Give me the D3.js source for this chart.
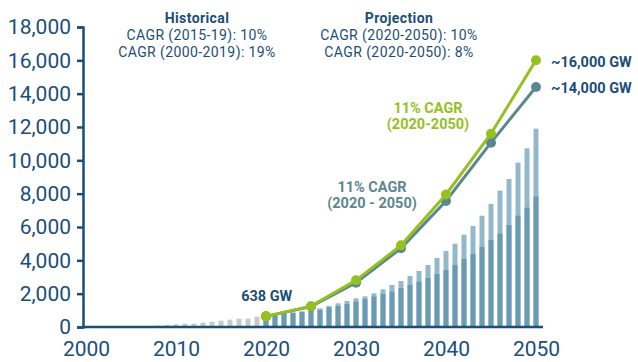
<!DOCTYPE html>
<html>
<head>
<meta charset="utf-8">
<script src="https://cdn.jsdelivr.net/npm/d3@7/dist/d3.min.js"></script>
<style>
  html, body { margin: 0; padding: 0; background: #ffffff; }
  svg { display: block; }
  text { font-family: Roboto, "Open Sans", Arial, sans-serif; }
</style>
</head>
<body>
<svg id="chart" width="638" height="362"></svg>
<script>
// Installed solar PV capacity (GW), historical and projected
const histYears = [2007, 2008, 2009, 2010, 2011, 2012, 2013, 2014, 2015, 2016, 2017, 2018, 2019];
const histCapacity = [60, 80, 120, 160, 200, 200, 260, 320, 380, 440, 500, 500, 620];

const projYears = [2020, 2021, 2022, 2023, 2024, 2025, 2026, 2027, 2028, 2029, 2030,
                   2031, 2032, 2033, 2034, 2035, 2036, 2037, 2038, 2039, 2040,
                   2041, 2042, 2043, 2044, 2045, 2046, 2047, 2048, 2049, 2050];
const projLow = [640, 720, 820, 860, 920, 1000, 1020, 1180, 1260, 1380, 1520,
                 1680, 1820, 1980, 2120, 2340, 2520, 2720, 2940, 3180, 3420,
                 3720, 4080, 4380, 4800, 5220, 5600, 6120, 6680, 7160, 7820];
const projHigh = [640, 720, 820, 860, 920, 1000, 1120, 1260, 1420, 1560, 1720,
                  1840, 2020, 2260, 2520, 2760, 3060, 3360, 3720, 4140, 4560,
                  5000, 5540, 6060, 6680, 7380, 8180, 8880, 9860, 10720, 11900];

const pathYears = [2020, 2025, 2030, 2035, 2040, 2045, 2050];
const pathHigh = [638, 1250, 2800, 4900, 7950, 11600, 16000];
const pathBase = [638, 1230, 2650, 4720, 7560, 11060, 14400];

const yTicks = [0, 2000, 4000, 6000, 8000, 10000, 12000, 14000, 16000, 18000];
const xTicks = [2000, 2010, 2020, 2030, 2040, 2050];

const navy = "#1b4e78";
const green = "#95c11f";
const slate = "#5b8790";
const barDark = "#6a9bb2";
const barLight = "#93b8c9";
const barGrey = "#c9c9c9";

const svg = d3.select("#chart");
const x = d3.scaleLinear().domain([2000, 2050]).range([86, 536]);
const y = d3.scaleLinear().domain([0, 18000]).range([327, 27]);
const axisX = 83, axisEnd = 543, barW = 5;

// historical bars
svg.append("g").selectAll("rect").data(histYears).join("rect")
  .attr("x", d => x(d) - barW / 2)
  .attr("width", barW)
  .attr("y", (d, i) => y(histCapacity[i]))
  .attr("height", (d, i) => y(0) - y(histCapacity[i]))
  .attr("fill", barGrey);

// projected bars: upper range then lower range
const pg = svg.append("g");
pg.selectAll("rect.hi").data(projYears).join("rect").attr("class", "hi")
  .attr("x", d => x(d) - barW / 2)
  .attr("width", barW)
  .attr("y", (d, i) => y(projHigh[i]))
  .attr("height", (d, i) => y(0) - y(projHigh[i]))
  .attr("fill", barLight);
pg.selectAll("rect.lo").data(projYears).join("rect").attr("class", "lo")
  .attr("x", d => x(d) - barW / 2)
  .attr("width", barW)
  .attr("y", (d, i) => y(projLow[i]))
  .attr("height", (d, i) => y(0) - y(projLow[i]))
  .attr("fill", barDark);

// y axis
const yAxis = svg.append("g")
  .attr("transform", `translate(${axisX},0)`)
  .call(d3.axisLeft(y).tickValues(yTicks).tickFormat(d3.format(",")).tickSize(6).tickPadding(6));
yAxis.select(".domain").attr("stroke", navy).attr("stroke-width", 2.5);
yAxis.selectAll(".tick line").attr("stroke", navy).attr("stroke-width", 2.5);
yAxis.selectAll(".tick text").attr("fill", navy).attr("font-size", 21)
  .style("font-family", "Roboto, sans-serif");

// x axis
const xAxis = svg.append("g")
  .attr("transform", `translate(0,${y(0)})`)
  .call(d3.axisBottom(x).tickValues(xTicks).tickFormat(d3.format("d")).tickSize(0).tickPadding(14));
xAxis.select(".domain").remove();
xAxis.selectAll(".tick text").attr("fill", navy).attr("font-size", 21)
  .style("font-family", "Roboto, sans-serif");
svg.append("line")
  .attr("x1", axisX - 1).attr("x2", axisEnd)
  .attr("y1", y(0)).attr("y2", y(0))
  .attr("stroke", navy).attr("stroke-width", 2.5);

// scenario lines
const line = vals => d3.line().x((d, i) => x(pathYears[i])).y((d, i) => y(vals[i]))(vals);
function drawPath(vals, color) {
  svg.append("path").attr("d", line(vals))
    .attr("fill", "none").attr("stroke", color).attr("stroke-width", 3);
  svg.append("g").selectAll("circle").data(vals).join("circle")
    .attr("cx", (d, i) => x(pathYears[i]))
    .attr("cy", d => y(d))
    .attr("r", 5)
    .attr("fill", color);
}
drawPath(pathBase, slate);
drawPath(pathHigh, green);

// annotations: each block is one text element, one tspan per line
function label(lines, px, py, color, opts = {}) {
  const t = svg.append("text")
    .attr("x", px).attr("y", py)
    .attr("fill", color)
    .attr("font-size", opts.size || 14)
    .attr("letter-spacing", opts.spacing || 0)
    .attr("text-anchor", opts.anchor || "middle");
  const step = opts.step || 17;
  lines.forEach((ln, i) => {
    t.append("tspan")
      .attr("x", px)
      .attr("dy", i === 0 ? 0 : step)
      .attr("font-weight", (opts.boldFirst && i === 0) || opts.bold ? 700 : 400)
      .text(ln);
  });
}
label(["Historical", "CAGR (2015-19): 10%", "CAGR (2000-2019): 19%"], 197, 22.5, navy, { boldFirst: true, step: 17, spacing: 0.4 });
label(["Projection", "CAGR (2020-2050): 10%", "CAGR (2020-2050): 8%"], 399, 22.5, navy, { boldFirst: true, step: 17, spacing: 0.4 });

label(["~16,000 GW"], 551, 67, navy, { bold: true, anchor: "start", size: 14.5 });
label(["~14,000 GW"], 551, 93, navy, { bold: true, anchor: "start", size: 14.5 });
label(["11% CAGR", "(2020-2050)"], 428, 113, green, { bold: true, size: 14.5, step: 16 });
label(["11% CAGR", "(2020 - 2050)"], 372, 191.5, slate, { bold: true, size: 14.5, step: 16 });
label([`${pathHigh[0]} GW`], 266.7, 301, navy, { bold: true, size: 14.5 });
</script>
</body>
</html>
